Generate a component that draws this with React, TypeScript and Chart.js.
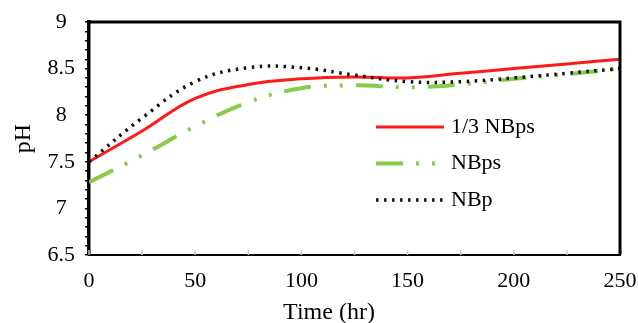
import React, { useEffect, useRef } from "react";
import { Chart, registerables } from "chart.js";

Chart.register(...registerables);

const TIME = [0, 25, 50, 75, 100, 125, 150, 175, 200, 225, 250];
const RED_13NBPS = [7.5, 7.83, 8.18, 8.33, 8.39, 8.41, 8.4, 8.45, 8.5, 8.55, 8.6];
const GREEN_NBPS = [7.28, 7.57, 7.88, 8.14, 8.29, 8.32, 8.3, 8.33, 8.39, 8.44, 8.5];
const BLACK_NBP = [7.5, 7.97, 8.36, 8.51, 8.51, 8.43, 8.36, 8.36, 8.4, 8.45, 8.5];
const SERIES_NAMES = ["1/3 NBps", "NBps", "NBp"];
const Y_TICK_LABELS = ["6.5", "7", "7.5", "8", "8.5", "9"];
const X_TICK_LABELS = ["0", "50", "100", "150", "200", "250"];
const X_TITLE = "Time (hr)";
const Y_TITLE = "pH";

const FAMILY = '"Liberation Serif", "Times New Roman", serif';

const pts = (ys: number[]) => TIME.map((t, i) => ({ x: t, y: ys[i] }));

const framePlugin = {
  id: "frame",
  beforeDatasetsDraw(chart: any) {
    const { ctx, chartArea } = chart;
    const xs = chart.scales.x;
    ctx.save();
    ctx.strokeStyle = "#c8c8c8";
    ctx.lineWidth = 1.5;
    xs.ticks.forEach((t: any) => {
      const px = xs.getPixelForValue(t.value);
      ctx.beginPath();
      ctx.moveTo(px, chartArea.bottom);
      ctx.lineTo(px, chartArea.bottom - 5);
      ctx.stroke();
    });
    ctx.restore();
  },
  afterDatasetsDraw(chart: any) {
    const { ctx, chartArea } = chart;
    ctx.save();
    ctx.strokeStyle = "#000";
    ctx.lineWidth = 3;
    ctx.beginPath();
    ctx.moveTo(chartArea.left, chartArea.top);
    ctx.lineTo(chartArea.right, chartArea.top);
    ctx.lineTo(chartArea.right, chartArea.bottom);
    ctx.stroke();
    ctx.restore();
  },
};

const legendPlugin = {
  id: "innerLegend",
  afterDraw(chart: any) {
    const { ctx, chartArea } = chart;
    const x0 = chartArea.left + 287;
    const x1 = x0 + 68;
    const y0 = chartArea.top + 105;
    const gap = 36.5;
    ctx.save();
    chart.data.datasets.forEach((ds: any, i: number) => {
      const y = y0 + i * gap;
      ctx.strokeStyle = ds.borderColor;
      ctx.lineWidth = ds.borderWidth;
      ctx.setLineDash(ds.borderDash || []);
      ctx.beginPath();
      ctx.moveTo(x0, y);
      ctx.lineTo(x1, y);
      ctx.stroke();
      ctx.setLineDash([]);
      ctx.fillStyle = "#000";
      ctx.font = `22px ${FAMILY}`;
      ctx.textBaseline = "middle";
      ctx.textAlign = "left";
      ctx.fillText(ds.label, x1 + 7, y);
    });
    ctx.restore();
  },
};

const xTitlePlugin = {
  id: "xTitle",
  afterDraw(chart: any) {
    const { ctx, chartArea } = chart;
    ctx.save();
    ctx.fillStyle = "#000";
    ctx.font = `24px ${FAMILY}`;
    ctx.textAlign = "center";
    ctx.textBaseline = "alphabetic";
    ctx.fillText(X_TITLE, chart.width / 2 + 10, chartArea.bottom + 64);
    ctx.restore();
  },
};

export default function App() {
  const ref = useRef<HTMLCanvasElement>(null);
  useEffect(() => {
    if (!ref.current) return;
    const chart = new Chart(ref.current, {
      type: "line",
      data: {
        datasets: [
          {
            label: SERIES_NAMES[0],
            data: pts(RED_13NBPS),
            borderColor: "#ff1a1a",
            borderWidth: 3,
            pointRadius: 0,
            tension: 0.4,
            order: 1,
          },
          {
            label: SERIES_NAMES[1],
            data: pts(GREEN_NBPS),
            borderColor: "#86cc4a",
            borderWidth: 4,
            borderDash: [27, 13, 3, 13, 3, 13],
            pointRadius: 0,
            tension: 0.4,
            order: 2,
          },
          {
            label: SERIES_NAMES[2],
            data: pts(BLACK_NBP),
            borderColor: "#111",
            borderWidth: 3.5,
            borderDash: [2.5, 5.5],
            pointRadius: 0,
            tension: 0.4,
            order: 0,
          },
        ],
      },
      options: {
        animation: false,
        responsive: false,
        layout: { padding: { left: 0, top: 22, right: 18, bottom: 0 } },
        plugins: { legend: { display: false }, tooltip: { enabled: false } },
        scales: {
          x: {
            type: "linear",
            min: 0,
            max: 250,
            afterFit: (s: any) => {
              s.height = 68;
              s.paddingLeft = 0;
              s.paddingRight = 0;
            },
            ticks: {
              stepSize: 25,
              autoSkip: false,
              maxRotation: 0,
              padding: 13,
              color: "#000",
              font: { size: 22, family: FAMILY },
              callback: (v: any) => {
                const n = Number(v);
                return n % 50 === 0 ? X_TICK_LABELS[n / 50] : "";
              },
            },
            grid: { drawOnChartArea: false, drawTicks: false },
            border: { color: "#000", width: 2 },
          },
          y: {
            min: 6.5,
            max: 9,
            afterFit: (s: any) => {
              s.width = 89;
              s.paddingTop = 0;
              s.paddingBottom = 0;
            },
            ticks: {
              stepSize: 0.1,
              autoSkip: false,
              padding: 10,
              crossAlign: "center",
              color: "#000",
              font: { size: 22, family: FAMILY },
              callback: (v: any) => {
                const k = (Number(v) - 6.5) * 2;
                return Math.abs(k - Math.round(k)) < 1e-6 ? Y_TICK_LABELS[Math.round(k)] : "";
              },
            },
            grid: { drawOnChartArea: false, drawTicks: true, tickLength: 4, color: "#000", lineWidth: 1.5 },
            border: { color: "#000", width: 3.5 },
            title: {
              display: true,
              text: Y_TITLE,
              color: "#000",
              font: { size: 24, family: FAMILY },
              padding: { top: 9, bottom: 0 },
            },
          },
        },
      },
      plugins: [framePlugin, legendPlugin, xTitlePlugin],
    });
    return () => chart.destroy();
  }, []);
  return (
    <div style={{ position: "absolute", left: 0, top: 0, width: 638, height: 323, background: "#fff" }}>
      <canvas ref={ref} width={638} height={323} />
    </div>
  );
}
